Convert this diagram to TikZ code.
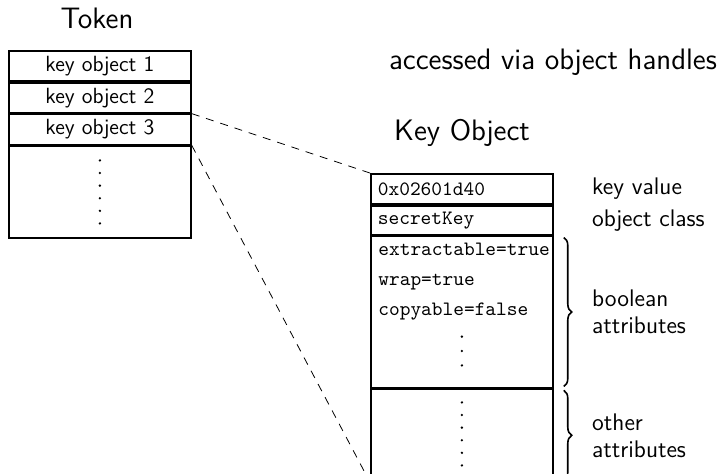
\documentclass[tikz,border=0pt]{standalone}
\usetikzlibrary{positioning,decorations.pathreplacing}

\begin{document}
\begin{tikzpicture}[
  x=0.5pt, y=-0.5pt,
  font=\sffamily,
  cell/.style={draw, line width=0.9pt, minimum width=91pt, inner sep=0pt, anchor=north west,
               font=\sffamily\fontsize{11}{13}\selectfont},
  kcell/.style={cell, text width=84pt, inner xsep=3.5pt, align=left, font=\ttfamily\fontsize{10.2}{12}\selectfont},
  title/.style={font=\sffamily\fontsize{14.8}{17}\selectfont},
  note/.style={font=\sffamily\fontsize{12}{13.5}\selectfont, align=left, inner sep=0pt},
  link/.style={dash pattern=on 4pt off 3.5pt, line width=0.4pt},
  brc/.style={decorate, decoration={brace, amplitude=4pt}, line width=0.8pt},
  node distance=0pt,
]
\useasboundingbox (0,0) rectangle (720,473);

% token
\node[title] (tokT) at (97,18) {Token};
\node[cell, minimum height=15pt] (t1) at (8,50) {key object 1};
\node[cell, minimum height=15pt, below=of t1] (t2) {key object 2};
\node[cell, minimum height=15pt, below=of t2] (t3) {key object 3};
\node[cell, minimum height=46pt, below=of t3] (t4) {};
\foreach \i in {0,...,5}
  \fill ([yshift={-7.5pt-\i*6.3pt}]t4.north) circle (0.65pt);

% key object
\node[title] (acc) at (553,62) {accessed via object handles};
\node[title] (koT) at (462,133) {Key Object};
\node[kcell, minimum height=15pt] (k1) at (370,173) {0x02601d40};
\node[kcell, minimum height=14.5pt, below=of k1] (k2) {secretKey};
\node[kcell, minimum height=75.5pt, below=of k2] (k3) {};
\node[kcell, minimum height=46pt, below=of k3] (k4) {};
\node[anchor=north west, inner sep=0pt, align=left, font=\ttfamily\fontsize{10.2}{15}\selectfont] (bools)
  at ([xshift=4pt,yshift=-3.5pt]k3.north west) {extractable=true\\wrap=true\\copyable=false};
\foreach \i in {0,1,2}
  \fill ([yshift={-50.5pt-\i*7.2pt}]k3.north) circle (0.65pt);
\foreach \i in {0,...,5}
  \fill ([yshift={-7pt-\i*6.3pt}]k4.north) circle (0.65pt);

% handles
\draw[link] (t2.south east) -- (k1.north west);
\draw[link] (t3.south east) -- (k4.south west);

% braces and notes
\draw[brc] ([xshift=5pt,yshift=-1pt]k3.north east) -- ([xshift=5pt,yshift=1pt]k3.south east);
\draw[brc] ([xshift=5pt,yshift=-1pt]k4.north east) -- ([xshift=5pt,yshift=1pt]k4.south east);
\node[note, right=19pt of k1] (lv) {key value};
\node[note, right=19pt of k2] (lc) {object class};
\node[note, right=19pt of k3] (lb) {boolean\\attributes};
\node[note, right=19pt of k4] (lo) {other\\attributes};
\end{tikzpicture}
\end{document}
